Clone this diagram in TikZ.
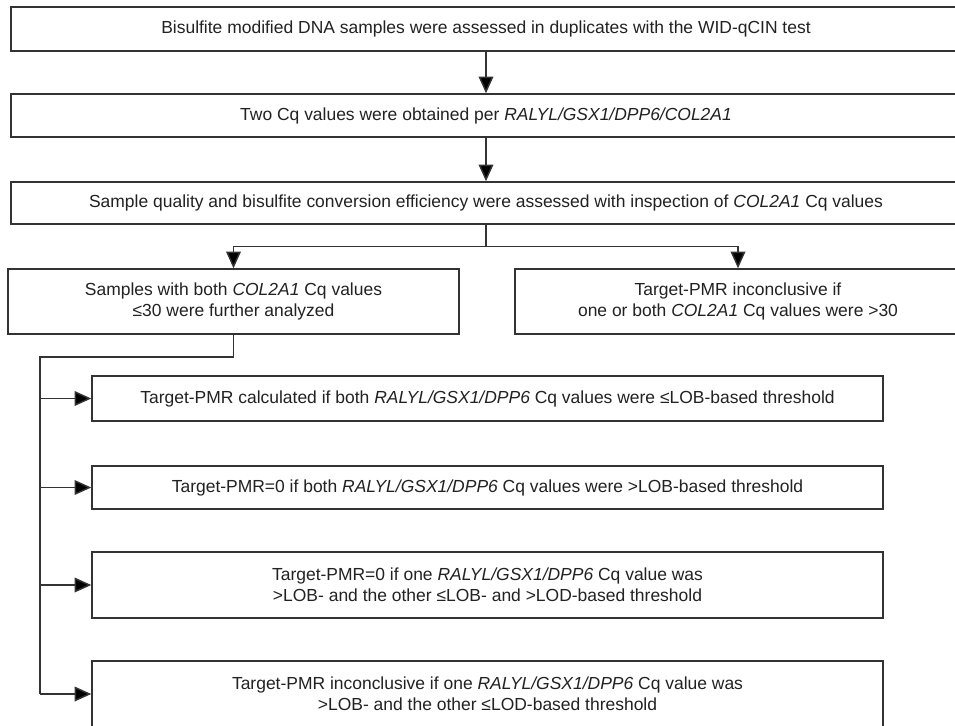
\documentclass[tikz,border=0pt]{standalone}
\usepackage{fontspec}
\setmainfont{Liberation Sans}
\usetikzlibrary{arrows.meta}
\definecolor{ink}{HTML}{222222}
\definecolor{rule}{HTML}{333333}
\tikzset{
  box/.style={draw=rule, line width=1.1pt, fill=white, inner sep=0pt,
    align=center, text=ink, font=\fontsize{13.1}{15.6}\selectfont},
  flow/.style={draw=rule, line width=1.1pt,
    -{Triangle[length=12.5pt,width=11pt,fill=black]}},
  wire/.style={draw=rule, line width=1.1pt}
}
\begin{document}
\begin{tikzpicture}[x=0.75pt,y=-0.75pt]
\clip (0,0) rectangle (955,725);
\useasboundingbox (0,0) rectangle (955,725);

% main sequence
\node[box, minimum width=950*0.75pt, minimum height=44*0.75pt] (b1) at (486,29)
  {Bisulfite modified DNA samples were assessed in duplicates with the WID-qCIN test};
\node[box, minimum width=950*0.75pt, minimum height=43*0.75pt] (b2) at (486,115.5)
  {Two Cq values were obtained per \textit{RALYL/GSX1/DPP6/COL2A1}};
\node[box, minimum width=950*0.75pt, minimum height=42*0.75pt] (b3) at (486,203)
  {Sample quality and bisulfite conversion efficiency were assessed with inspection of \textit{COL2A1} Cq values};

% quality split
\node[box, minimum width=451*0.75pt, minimum height=65*0.75pt] (ok) at (233.5,301.5)
  {Samples with both \textit{COL2A1} Cq values\\ ≤30 were further analyzed};
\node[box, minimum width=446*0.75pt, minimum height=65*0.75pt] (bad) at (738,301.5)
  {Target-PMR inconclusive if\\ one or both \textit{COL2A1} Cq values were >30};

% outcomes
\node[box, minimum width=791*0.75pt, minimum height=45*0.75pt] (oa) at (487.5,398.5)
  {Target-PMR calculated if both \textit{RALYL/GSX1/DPP6} Cq values were ≤LOB-based threshold};
\node[box, minimum width=791*0.75pt, minimum height=43*0.75pt] (ob) at (487.5,487.5)
  {Target-PMR=0 if both \textit{RALYL/GSX1/DPP6} Cq values were >LOB-based threshold};
\node[box, minimum width=791*0.75pt, minimum height=66*0.75pt] (oc) at (487.5,585)
  {Target-PMR=0 if one \textit{RALYL/GSX1/DPP6} Cq value was\\ >LOB- and the other ≤LOB- and >LOD-based threshold};
\node[box, minimum width=791*0.75pt, minimum height=66*0.75pt] (od) at (487.5,694)
  {Target-PMR inconclusive if one \textit{RALYL/GSX1/DPP6} Cq value was\\ >LOB- and the other ≤LOD-based threshold};

% connectors
\draw[flow] (b1) -- (b2);
\draw[flow] (b2) -- (b3);
\draw[wire] (b3.south) -- ++(0,22) coordinate (split);
\draw[flow] (split) -| (ok.north);
\draw[flow] (split) -| (bad.north);

\coordinate (trunk) at (40,357);
\draw[wire] (ok.south) |- (trunk) -- (trunk |- od.west);
\foreach \o in {oa,ob,oc,od}
  \draw[flow] (trunk |- \o.west) -- (\o.west);
\end{tikzpicture}
\end{document}
